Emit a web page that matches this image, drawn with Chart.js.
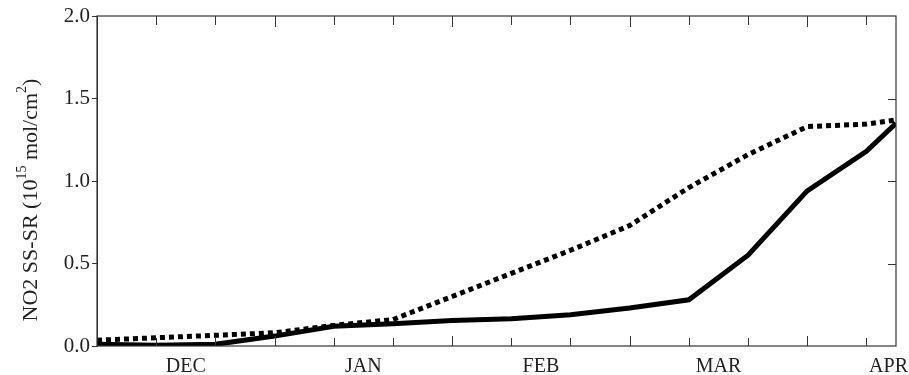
<!DOCTYPE html>
<html>
<head>
<meta charset="utf-8">
<script src="https://cdn.jsdelivr.net/npm/chart.js@4"></script>
<style>
  html, body { margin: 0; padding: 0; background: #fff; }
  #wrap { width: 909px; height: 375px; }
</style>
</head>
<body>
<div id="wrap"><canvas id="grafico"></canvas></div>
<script>
// x is counted in 10-day steps from the left edge of the plot
const xPos = [0, 1, 2, 3, 4, 5, 6, 7, 8, 9, 10, 11, 12, 13, 13.5];
const serieSolida = [0.01, 0.005, 0.01, 0.06, 0.12, 0.135, 0.155, 0.165, 0.19, 0.23, 0.28, 0.55, 0.94, 1.18, 1.35];
const seriePunteada = [0.035, 0.05, 0.065, 0.08, 0.125, 0.16, 0.30, 0.44, 0.58, 0.73, 0.96, 1.16, 1.33, 1.345, 1.37];
const meses = ['DEC', 'JAN', 'FEB', 'MAR', 'APR'];
const mesesPos = [1.5, 4.5, 7.5, 10.5, 13.5];
const marcasX = [1, 2, 3, 4, 5, 6, 7, 8, 9, 10, 11, 12, 13];
const marcasY = [0.5, 1.0, 1.5];

const FUENTE = "'Liberation Serif', 'Times New Roman', serif";
const EJE = '#333';

// ticks hacia dentro, caja, etiquetas de meses y titulo del eje Y
const decoracion = {
    id: 'decoracion',
    afterDraw(chart) {
        const c = chart.ctx;
        const a = chart.chartArea;
        const sx = chart.scales.x;
        const sy = chart.scales.y;
        c.save();
        c.strokeStyle = EJE;
        c.lineWidth = 1.2;
        c.strokeRect(a.left, a.top, a.right - a.left, a.bottom - a.top);

        c.lineWidth = 1;
        c.beginPath();
        marcasX.forEach(function (v) {
            const px = Math.round(sx.getPixelForValue(v)) + 0.5;
            const largo = v % 3 === 0 ? 10 : 8;
            c.moveTo(px, a.bottom);
            c.lineTo(px, a.bottom - largo);
            c.moveTo(px, a.top);
            c.lineTo(px, a.top + largo + 1);
        });
        marcasY.forEach(function (v) {
            const py = Math.round(sy.getPixelForValue(v)) + 0.5;
            c.moveTo(a.right, py);
            c.lineTo(a.right - 8, py);
        });
        c.stroke();

        c.fillStyle = '#222';
        c.font = '20px ' + FUENTE;
        c.textAlign = 'center';
        c.textBaseline = 'alphabetic';
        meses.forEach(function (m, i) {
            const w = c.measureText(m).width;
            const px = Math.min(sx.getPixelForValue(mesesPos[i]), chart.width - w / 2 - 1);
            c.fillText(m, px, a.bottom + 26);
        });

        // titulo rotado con superindices
        const partes = [
            ['NO2 SS-SR (10', false],
            ['15', true],
            [' mol/cm', false],
            ['2', true],
            [')', false]
        ];
        const fNormal = '22px ' + FUENTE;
        const fSup = '14px ' + FUENTE;
        let total = 0;
        partes.forEach(function (p) {
            c.font = p[1] ? fSup : fNormal;
            total += c.measureText(p[0]).width;
        });
        c.translate(37, 200);
        c.rotate(-Math.PI / 2);
        c.textAlign = 'left';
        let x = -total / 2;
        partes.forEach(function (p) {
            c.font = p[1] ? fSup : fNormal;
            c.fillText(p[0], x, p[1] ? -11 : 0);
            x += c.measureText(p[0]).width;
        });
        c.restore();
    }
};

const ctx = document.getElementById('grafico');

new Chart(ctx, {
    type: 'line',
    data: {
        datasets: [{
            label: 'Serie solida',
            data: xPos.map(function (x, i) { return { x: x, y: serieSolida[i] }; }),
            borderColor: '#000',
            borderWidth: 5,
            pointRadius: 0,
            tension: 0,
            fill: false
        }, {
            label: 'Serie punteada',
            data: xPos.map(function (x, i) { return { x: x, y: seriePunteada[i] }; }),
            borderColor: '#000',
            borderWidth: 5,
            borderDash: [5, 4],
            borderCapStyle: 'butt',
            pointRadius: 0,
            tension: 0,
            fill: false
        }]
    },
    options: {
        responsive: true,
        maintainAspectRatio: false,
        animation: false,
        events: [],
        layout: {
            padding: { left: 0, top: 16, right: 13, bottom: 0 }
        },
        plugins: {
            legend: { display: false },
            tooltip: { enabled: false }
        },
        scales: {
            x: {
                type: 'linear',
                min: 0,
                max: 13.5,
                grid: { display: false },
                border: { display: false },
                ticks: { display: false },
                afterFit: function (s) { s.height = 29; }
            },
            y: {
                min: 0,
                max: 2,
                ticks: {
                    stepSize: 0.5,
                    padding: 2,
                    color: '#222',
                    font: { family: FUENTE, size: 21 },
                    callback: function (v) { return v.toFixed(1); }
                },
                grid: { drawOnChartArea: false, tickLength: 5, color: EJE },
                border: { color: EJE },
                afterFit: function (s) { s.width = 97; }
            }
        }
    },
    plugins: [decoracion]
});
</script>
</body>
</html>
